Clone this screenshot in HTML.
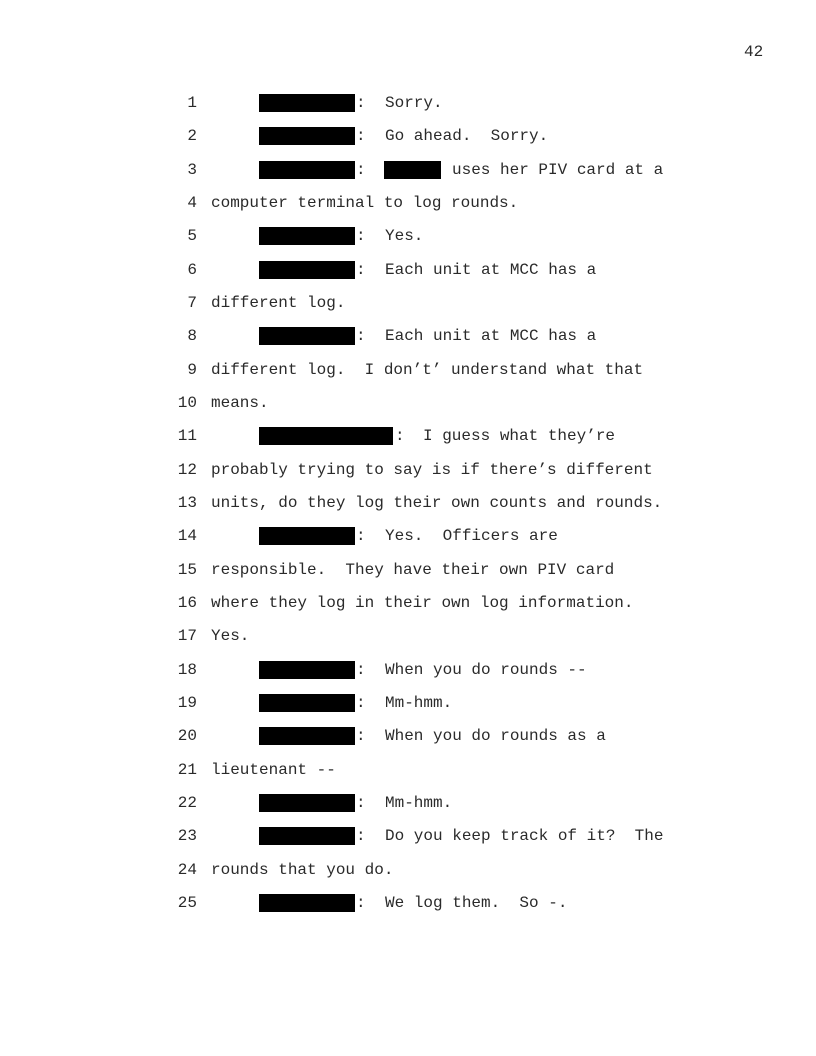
<!DOCTYPE html>
<html><head><style>
body{margin:0;width:816px;height:1056px;background:#fff;position:relative;font-family:"Liberation Mono",monospace;font-size:16px;color:#2a2a2a;}
.l{position:absolute;left:0;height:20px;line-height:20px;width:816px;white-space:pre;}
.n{position:absolute;width:197px;left:0;text-align:right;}
.t{position:absolute;}
.b{position:absolute;background:#000;top:1px;height:18px;}
</style></head><body>
<div class="l" style="top:42px"><span class="t" style="left:744px">42</span></div>
<div id="c"></div>
<script>
var L=[
[1,'r','Sorry.'],[2,'r','Go ahead.  Sorry.'],[3,'r3','uses her PIV card at a'],[4,'p','computer terminal to log rounds.'],
[5,'r','Yes.'],[6,'r','Each unit at MCC has a'],[7,'p','different log.'],[8,'r','Each unit at MCC has a'],
[9,'p','different log.  I don\u2019t\u2019 understand what that'],[10,'p','means.'],[11,'rl','I guess what they\u2019re'],
[12,'p','probably trying to say is if there\u2019s different'],[13,'p','units, do they log their own counts and rounds.'],
[14,'r','Yes.  Officers are'],[15,'p','responsible.  They have their own PIV card'],[16,'p','where they log in their own log information.'],
[17,'p','Yes.'],[18,'r','When you do rounds --'],[19,'r','Mm-hmm.'],[20,'r','When you do rounds as a'],[21,'p','lieutenant --'],
[22,'r','Mm-hmm.'],[23,'r','Do you keep track of it?  The'],[24,'p','rounds that you do.'],[25,'r','We log them.  So -.']];
var h='';
L.forEach(function(a){var y=93+(a[0]-1)*33.33;var s='<div class="l" style="top:'+y+'px"><span class="n">'+a[0]+'</span>';
if(a[1]=='p')s+='<span class="t" style="left:211px">'+a[2]+'</span>';
else if(a[1]=='rl')s+='<span class="b" style="left:259px;width:134px"></span><span class="t" style="left:395px">:</span><span class="t" style="left:423px">'+a[2]+'</span>';
else{s+='<span class="b" style="left:259px;width:96px"></span><span class="t" style="left:356px">:</span>';
if(a[1]=='r3')s+='<span class="b" style="left:384px;width:57px"></span><span class="t" style="left:452px">'+a[2]+'</span>';
else s+='<span class="t" style="left:385px">'+a[2]+'</span>';}
h+=s+'</div>';});
document.getElementById('c').innerHTML=h;
</script>
</body></html>
